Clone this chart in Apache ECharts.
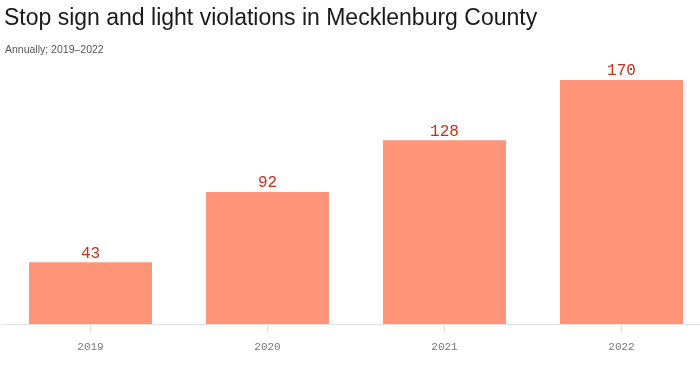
<!DOCTYPE html>
<html>
<head>
<meta charset="utf-8">
<script src="https://cdn.jsdelivr.net/npm/echarts@6/dist/echarts.min.js"></script>
<style>
html,body{margin:0;padding:0;background:#fff;overflow:hidden;width:700px;height:370px;}
#c{width:710px;height:370px;}
</style>
</head>
<body>
<div id="c"></div>
<script>
const categories = ['2019', '2020', '2021', '2022'];
const violations = [43, 92, 128, 170];

const chart = echarts.init(document.getElementById('c'), null, {renderer: 'canvas'});
chart.setOption({
  animation: false,
  title: [{
    text: 'Stop sign and light violations in Mecklenburg County',
    left: -1, top: 2,
    textStyle: {fontFamily: 'Liberation Sans', fontSize: 23, fontWeight: 400, color: '#1a1a1a'}
  }, {
    text: 'Annually; 2019–2022',
    left: 0, top: 40,
    textStyle: {fontFamily: 'Liberation Sans', fontSize: 10.5, fontWeight: 400, color: '#555'}
  }],
  grid: {left: 2, right: 0, top: 80, bottom: 46, containLabel: false},
  xAxis: {
    type: 'category',
    data: categories,
    axisLine: {lineStyle: {color: '#e2e2e2', width: 1}},
    axisTick: {show: true, alignWithLabel: true, length: 9, lineStyle: {color: '#e2e2e2'}},
    axisLabel: {fontFamily: 'Liberation Mono', fontSize: 11, color: '#777', margin: 18}
  },
  yAxis: {
    type: 'value', min: 0, max: 170,
    show: false,
    splitLine: {show: false}
  },
  series: [{
    type: 'bar',
    data: violations,
    barCategoryGap: '30.5%',
    itemStyle: {color: '#ff9479'},
    label: {
      show: true, position: 'top', distance: 1,
      fontFamily: 'Liberation Mono', fontSize: 16, color: '#c4301c'
    }
  }]
});
</script>
</body>
</html>
